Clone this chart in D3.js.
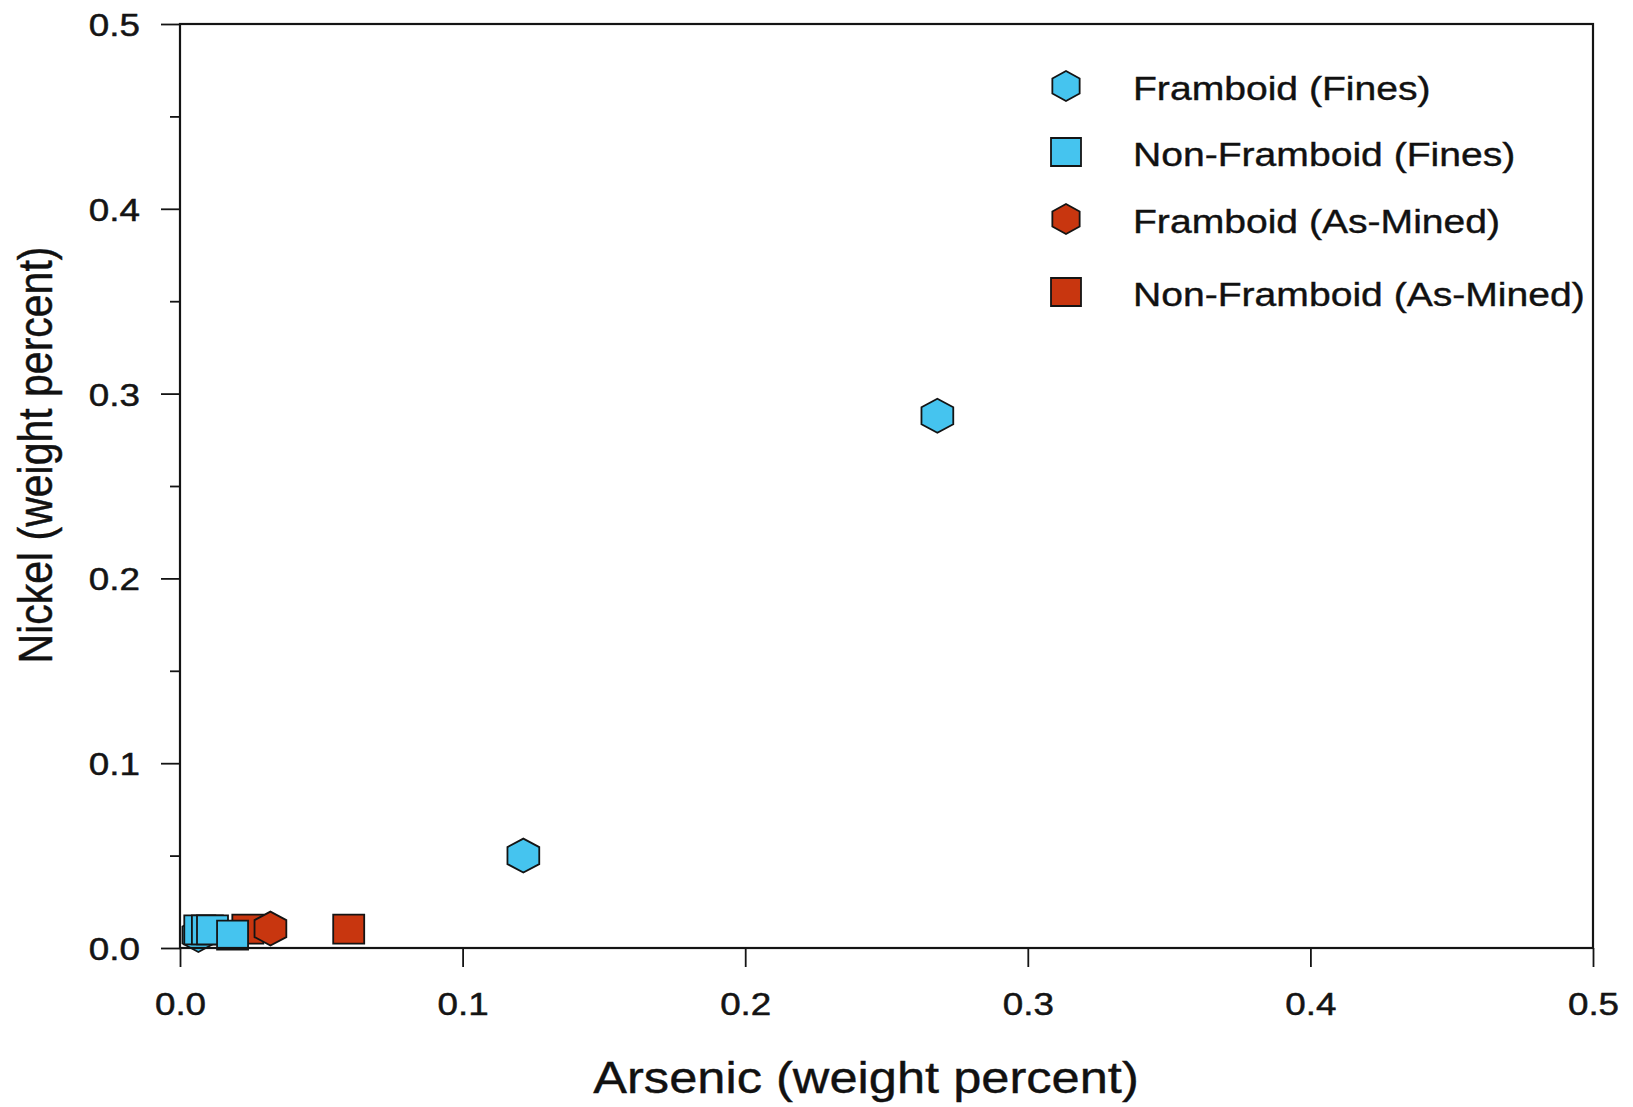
<!DOCTYPE html>
<html>
<head>
<meta charset="utf-8">
<script src="https://cdn.jsdelivr.net/npm/d3@7/dist/d3.min.js"></script>
<style>
  html, body { margin: 0; padding: 0; background: #fff; }
  svg { display: block; }
  text { font-family: "Liberation Sans", Arial, sans-serif; fill: #111; }
</style>
</head>
<body>
<svg id="chart" width="1633" height="1107"></svg>
<script>
// Series: arsenic (x) and nickel (y), weight percent
const framboidFinesX    = [0.0065, 0.268, 0.1215];
const framboidFinesY    = [0.007,  0.288, 0.05];
const nonFramboidFinesX = [0.007, 0.0097, 0.0115, 0.0186];
const nonFramboidFinesY = [0.0098, 0.0098, 0.0098, 0.007];
const framboidMinedX    = [0.032];
const framboidMinedY    = [0.0105];
const nonFramboidMinedX = [0.024, 0.0597];
const nonFramboidMinedY = [0.0102, 0.0102];

const xTicks = [0, 0.1, 0.2, 0.3, 0.4, 0.5];
const yTicks = [0, 0.1, 0.2, 0.3, 0.4, 0.5];
const yMinorTicks = [0.05, 0.15, 0.25, 0.35, 0.45];

const legendLabels = ["Framboid (Fines)", "Non-Framboid (Fines)", "Framboid (As-Mined)", "Non-Framboid (As-Mined)"];
const xTitle = "Arsenic (weight percent)";
const yTitle = "Nickel (weight percent)";

const CYAN = "#45c4ef";
const RED = "#c8360f";
const INK = "#141414";
const STRETCH = 1.15;

const svg = d3.select("#chart");
const plotLeft = 180, plotRight = 1593, plotTop = 24, plotBottom = 948;

const x = d3.scaleLinear().domain([0, 0.5]).range([plotLeft, plotRight]);
const y = d3.scaleLinear().domain([0, 0.5]).range([plotBottom, plotTop]);

// Hexagon (pointy top) path, slightly wider than tall
function hexPath(r, sx) {
  const pts = d3.range(6).map(i => {
    const a = (-90 + 60 * i) * Math.PI / 180;
    return [Math.cos(a) * r * sx, Math.sin(a) * r];
  });
  return d3.line()(pts) + "Z";
}
function squarePath(w, h) {
  return `M${-w/2},${-h/2}H${w/2}V${h/2}H${-w/2}Z`;
}

// Axes
const yAxis = svg.append("g").attr("transform", `translate(${plotLeft},0)`)
  .call(d3.axisLeft(y).tickValues(yTicks).tickFormat(d3.format(".1f")).tickSize(19).tickPadding(0));
const yMinor = svg.append("g").attr("transform", `translate(${plotLeft},0)`)
  .call(d3.axisLeft(y).tickValues(yMinorTicks).tickFormat("").tickSize(10));
const xAxis = svg.append("g").attr("transform", `translate(0,${plotBottom})`)
  .call(d3.axisBottom(x).tickValues(xTicks).tickFormat(d3.format(".1f")).tickSize(19).tickPadding(0));

[yAxis, yMinor, xAxis].forEach(g => {
  g.select(".domain").remove();
  g.selectAll(".tick line").attr("stroke", INK).attr("stroke-width", 1.8);
});

yAxis.selectAll(".tick text")
  .attr("x", null).attr("dy", null)
  .attr("text-anchor", "end")
  .attr("font-size", 32)
  .attr("transform", `translate(-40,11.5) scale(${STRETCH},1)`)
  .style("fill", INK)
  .style("stroke", INK).style("stroke-width", 0.5);

xAxis.selectAll(".tick text")
  .attr("y", null).attr("dy", null)
  .attr("text-anchor", "middle")
  .attr("font-size", 32)
  .attr("transform", `translate(0,67) scale(${STRETCH},1)`)
  .style("fill", INK)
  .style("stroke", INK).style("stroke-width", 0.5);

// Series markers, drawn in layered order
const hexData = hexPath(17, 1.08);
const sqData = squarePath(31, 29);

function drawSeries(xs, ys, path, fill) {
  svg.append("g").selectAll("path")
    .data(xs.map((v, i) => [v, ys[i]]))
    .join("path")
    .attr("d", path)
    .attr("transform", d => `translate(${x(d[0])},${y(d[1])})`)
    .attr("fill", fill)
    .attr("stroke", INK)
    .attr("stroke-width", 1.8);
}
drawSeries(framboidFinesX, framboidFinesY, hexData, CYAN);
drawSeries(nonFramboidMinedX, nonFramboidMinedY, sqData, RED);
drawSeries(framboidMinedX, framboidMinedY, hexData, RED);
drawSeries(nonFramboidFinesX, nonFramboidFinesY, sqData, CYAN);

// Plot frame
svg.append("rect")
  .attr("x", plotLeft).attr("y", plotTop)
  .attr("width", plotRight - plotLeft).attr("height", plotBottom - plotTop)
  .attr("fill", "none").attr("stroke", INK).attr("stroke-width", 2.2);

// Legend
const legendShapes = [hexPath(15, 1.05), squarePath(30, 28), hexPath(15, 1.05), squarePath(30, 28)];
const legendFills = [CYAN, CYAN, RED, RED];
const legendBaselines = [100, 166, 233, 306];
const legend = svg.append("g");
legendLabels.forEach((label, i) => {
  legend.append("path")
    .attr("d", legendShapes[i])
    .attr("transform", `translate(1066,${legendBaselines[i] - 14})`)
    .attr("fill", legendFills[i])
    .attr("stroke", INK)
    .attr("stroke-width", 1.8);
  legend.append("text")
    .attr("transform", `translate(1133,${legendBaselines[i]}) scale(1.15,1)`)
    .attr("font-size", 34)
    .style("stroke", INK).style("stroke-width", 0.4)
    .text(label);
});

// Axis titles
svg.append("text")
  .attr("transform", `translate(866,1093) scale(${STRETCH},1)`)
  .attr("text-anchor", "middle")
  .attr("font-size", 44)
  .style("stroke", INK).style("stroke-width", 0.4)
  .text(xTitle);

svg.append("text")
  .attr("transform", `translate(52,455) scale(${STRETCH},1) rotate(-90)`)
  .attr("text-anchor", "middle")
  .attr("font-size", 41)
  .style("stroke", INK).style("stroke-width", 0.4)
  .text(yTitle);
</script>
</body>
</html>
